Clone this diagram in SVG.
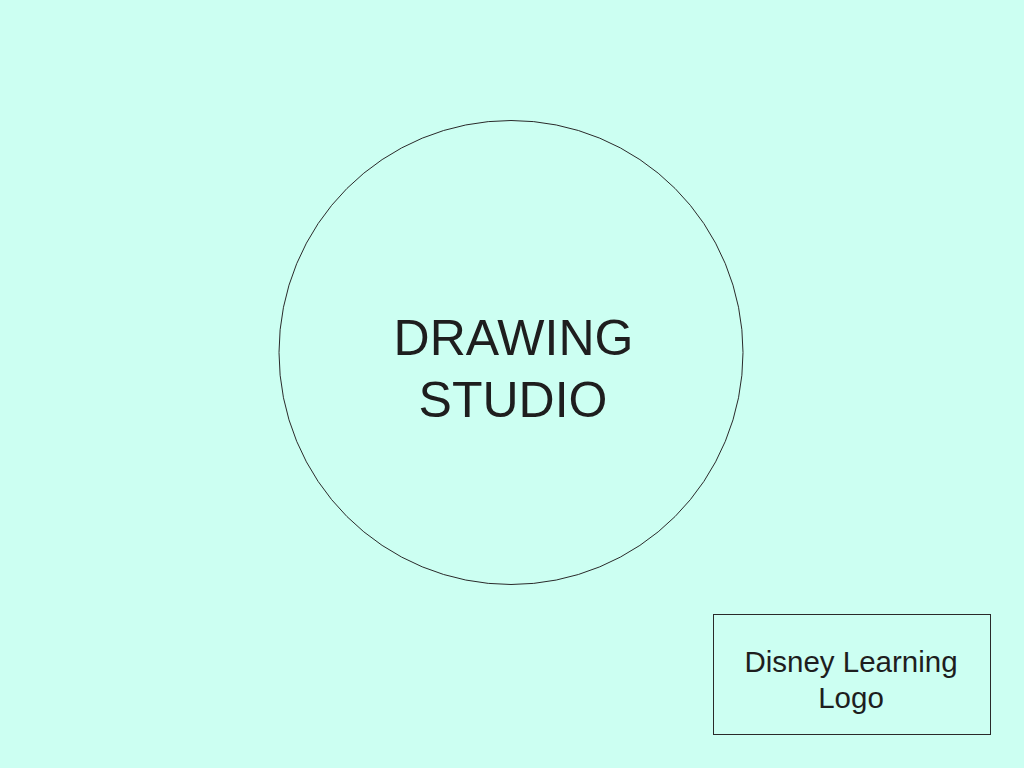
<svg xmlns="http://www.w3.org/2000/svg" width="1024" height="768" viewBox="0 0 1024 768">
<style>
.shape{fill:none;stroke:#2a2a2a;stroke-width:1}
.t{font-family:"Liberation Sans",Arial,Helvetica,sans-serif;fill:#1e1e1e;text-anchor:middle}
</style>
<rect width="1024" height="768" fill="#CCFFF2"/>
<g id="drawing-studio">
<circle class="shape" cx="511" cy="352.5" r="232"/>
<text class="t" font-size="50" x="513.5" y="355">DRAWING</text>
<text class="t" font-size="50" x="513" y="417">STUDIO</text>
</g>
<g id="disney-logo">
<rect class="shape" x="713.5" y="614.5" width="277" height="120"/>
<text class="t" font-size="29.5" x="851" y="672">Disney Learning</text>
<text class="t" font-size="29.5" x="851" y="708">Logo</text>
</g>
<g id="connectors"></g>
</svg>
